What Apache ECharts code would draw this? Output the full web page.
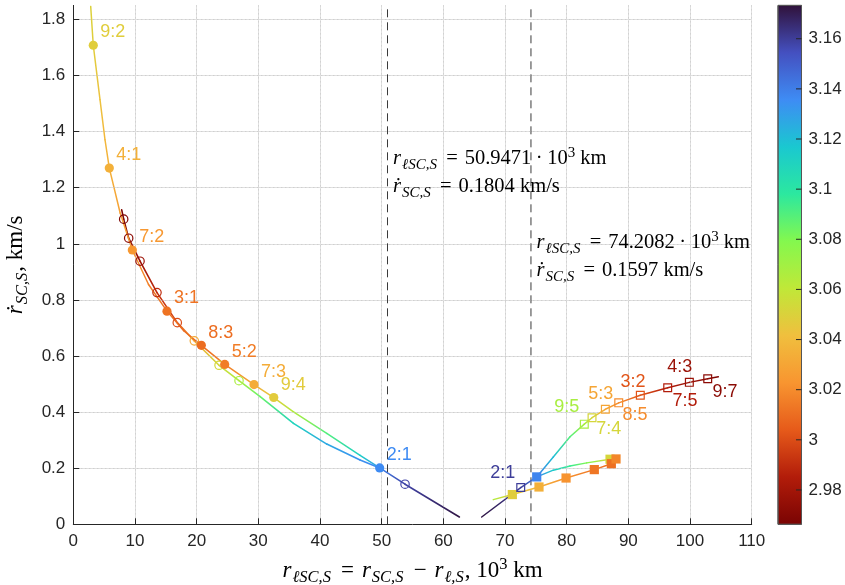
<!DOCTYPE html>
<html><head><meta charset="utf-8">
<script src="https://cdn.jsdelivr.net/npm/echarts@6/dist/echarts.min.js"></script>
<style>html,body{margin:0;padding:0;background:#fff}#c{width:845px;height:585px}</style>
</head><body><div id="c"></div>
<script>
// ---------------- data ----------------
const X_TICKS = [0,10,20,30,40,50,60,70,80,90,100,110];
const Y_TICKS = [0,0.2,0.4,0.6,0.8,1,1.2,1.4,1.6,1.8];
const CB_TICKS = [2.98,3,3.02,3.04,3.06,3.08,3.1,3.12,3.14,3.16];
const X_MIN = 0, X_MAX = 110, Y_MIN = 0, Y_MAX = 1.85;
const C_MIN = 2.9663, C_MAX = 3.1733;
const DASH_X = [50.9471, 74.2082];
const DASH_RDOT = [0.1804, 0.1597];

// left branch, curve through filled circles
const lfX = [2.82,3.24,4.33,5.14,5.84,7.6,9.57,12.2,15.19,17.9,20.76,24.55,29.3,32.5,35.7,41.1,46.5,49.68];
const lfY = [1.847,1.708,1.514,1.371,1.270,1.11,0.978,0.855,0.760,0.690,0.638,0.570,0.498,0.452,0.401,0.324,0.246,0.201];
const lfC = [3.05,3.048,3.043,3.038,3.035,3.028,3.024,3.016,3.012,3.010,3.010,3.015,3.033,3.047,3.065,3.09,3.113,3.132];
// left branch, curve through open circles
const loX = [7.85,8.17,8.98,10.82,13.57,16.86,19.62,23.63,26.87,30.3,35.7,41.1,46.5,49.68,53.79,62.6];
const loY = [1.121,1.088,1.020,0.938,0.826,0.719,0.654,0.567,0.512,0.455,0.360,0.286,0.229,0.201,0.143,0.026];
const loC = [2.967,2.968,2.972,2.978,2.99,3.0,3.032,3.053,3.067,3.085,3.11,3.127,3.134,3.138,3.158,3.172];
// right branch, curve through open squares
const roX = [66.22,72.55,75.14,77.83,80.54,82.86,84.11,86.27,88.44,91.94,96.38,99.89,102.87,104.59];
const roY = [0.026,0.131,0.169,0.240,0.312,0.357,0.380,0.410,0.433,0.460,0.487,0.506,0.519,0.526];
const roC = [3.172,3.16,3.14,3.12,3.09,3.068,3.052,3.03,3.02,3.002,2.985,2.977,2.972,2.968];
// right branch, upper curve through filled squares
const rf1X = [75.14,77.83,80.54,83.25,87.03];
const rf1Y = [0.169,0.193,0.208,0.219,0.232];
const rf1C = [3.138,3.115,3.095,3.08,3.052];
// right branch, lower curve through filled squares
const rf2X = [68.1,71.19,75.51,79.9,84.48,87.24,88.0];
const rf2Y = [0.088,0.106,0.133,0.165,0.195,0.216,0.233];
const rf2C = [3.065,3.048,3.035,3.022,3.013,3.011,3.018];

// markers
const dotX = [3.24,5.84,9.57,15.19,20.76,24.55,29.3,32.5,49.68];
const dotY = [1.708,1.270,0.978,0.760,0.638,0.570,0.498,0.452,0.201];
const dotC = [3.048,3.035,3.024,3.012,3.010,3.015,3.033,3.047,3.136];
const dotLabels = ['9:2','4:1','7:2','3:1','8:3','5:2','7:3','9:4','2:1'];
const ringX = [8.17,8.98,10.82,13.57,16.86,19.62,23.63,26.87,53.79];
const ringY = [1.088,1.020,0.938,0.826,0.719,0.654,0.567,0.512,0.143];
const ringC = [2.968,2.972,2.978,2.99,3.0,3.032,3.053,3.067,3.158];
const sqX = [72.55,82.86,84.11,86.27,88.44,91.94,96.38,99.89,102.87];
const sqY = [0.131,0.357,0.380,0.410,0.433,0.460,0.487,0.506,0.519];
const sqC = [3.16,3.068,3.052,3.03,3.02,3.002,2.985,2.977,2.972];
const sqLabels = ['2:1','9:5','7:4','5:3','8:5','3:2','7:5','4:3','9:7'];
const fsqX = [75.14,87.03,71.19,75.51,79.9,84.48,87.24,88.0];
const fsqY = [0.169,0.232,0.106,0.133,0.165,0.195,0.216,0.233];
const fsqC = [3.138,3.052,3.048,3.035,3.022,3.013,3.011,3.018];

// ---------------- styles ----------------
const CMAP = ['#7a0403','#b21c0a','#e65a1a','#f89530','#f0bf3e','#c0e838','#84f84e','#2ce89f','#1ac8d0','#3e8cf4','#4450c0','#30123b'];
const dotLabelOffset = [19.5,-12.7];
const sqLabelOffsets = [[-17.9,-14.8],[-17.6,-17],[16.7,11],[-4.6,-15.3],[16.3,12.6],[-7.3,-13.3],[17.3,13],[-9.6,-15],[17.3,13.6]];
const ANNOT_Y = [1.253, 0.954];
const SERIF = '"Liberation Serif","DejaVu Serif",serif';
const SANS = '"Liberation Sans",Arial,Helvetica,sans-serif';
const AX = '#262626';

const fmt = v => String(Number((+v).toFixed(3)));

function triples(xs, ys, cs){ return xs.map((x,i)=>[x, ys[i], cs[i]]); }

function curveSeries(xs, ys, cs, lw){
  return {
    type:'custom', coordinateSystem:'cartesian2d', xAxisIndex:0, yAxisIndex:0,
    data: triples(xs, ys, cs), encode:{x:0, y:1}, silent:true, clip:true, z:3,
    renderItem(params, api){
      const i = params.dataIndexInside;
      if (i === 0) return {type:'group', children:[]};
      const p0 = api.coord([api.value(0, i-1), api.value(1, i-1)]);
      const p1 = api.coord([api.value(0), api.value(1)]);
      const c0 = api.visual('color', i-1), c1 = api.visual('color');
      return {type:'line', shape:{x1:p0[0], y1:p0[1], x2:p1[0], y2:p1[1]},
        style:{stroke:{type:'linear', x:p0[0], y:p0[1], x2:p1[0], y2:p1[1], global:true,
          colorStops:[{offset:0,color:c0},{offset:1,color:c1}]}, lineWidth:lw, lineCap:'round'}};
    }
  };
}

function markerSeries(xs, ys, cs, kind, labels, offsets){
  return {
    type:'custom', coordinateSystem:'cartesian2d', xAxisIndex:0, yAxisIndex:0,
    data: triples(xs, ys, cs), encode:{x:0, y:1}, silent:true, clip:false, z:5,
    renderItem(params, api){
      const i = params.dataIndexInside;
      const p = api.coord([api.value(0), api.value(1)]);
      const col = api.visual('color');
      const ch = [];
      if (kind === 'dot') ch.push({type:'circle', shape:{cx:p[0], cy:p[1], r:4.6}, style:{fill:col}});
      if (kind === 'ring') ch.push({type:'circle', shape:{cx:p[0], cy:p[1], r:4.2}, style:{fill:'none', stroke:col, lineWidth:1.2}});
      if (kind === 'fsq') ch.push({type:'rect', shape:{x:p[0]-4.6, y:p[1]-4.6, width:9.2, height:9.2}, style:{fill:col}});
      if (kind === 'sq') ch.push({type:'rect', shape:{x:p[0]-3.9, y:p[1]-3.9, width:7.8, height:7.8}, style:{fill:'none', stroke:col, lineWidth:1.2}});
      if (labels && labels[i]){
        const off = Array.isArray(offsets[0]) ? offsets[i] : offsets;
        ch.push({type:'text', x:p[0]+off[0], y:p[1]+off[1], style:{text:labels[i], fill:col,
          fontSize:18, fontFamily:SANS, align:'center', verticalAlign:'middle'}});
      }
      return {type:'group', children:ch};
    }
  };
}

function mathStyles(main, sub, lh){
  const base = {fontFamily:SERIF, color:'#000'};
  return {
    it:Object.assign({}, base, {fontStyle:'italic', fontSize:main, lineHeight:lh}),
    rm:Object.assign({}, base, {fontSize:main, lineHeight:lh}),
    eq:Object.assign({}, base, {fontSize:main, lineHeight:lh, padding:[0, main*0.34, 0, main*0.4]}),
    dot:Object.assign({}, base, {fontSize:main, lineHeight:lh, padding:[0, main*0.22, 0, main*0.22]}),
    sub:Object.assign({}, base, {fontStyle:'italic', fontSize:sub, lineHeight:sub, verticalAlign:'bottom', padding:[0, 1, 0, 1]}),
    sup:Object.assign({}, base, {fontSize:sub, lineHeight:sub, verticalAlign:'top'})
  };
}
const annotRich = mathStyles(20.5, 15, 27.5);
const axisRich = mathStyles(23, 16.5, 30);

const series = [
  curveSeries(loX, loY, loC, 1.6),
  curveSeries(lfX, lfY, lfC, 1.5),
  curveSeries(roX, roY, roC, 1.5),
  curveSeries(rf1X, rf1Y, rf1C, 1.5),
  curveSeries(rf2X, rf2Y, rf2C, 1.5),
  markerSeries(ringX, ringY, ringC, 'ring', null, null),
  markerSeries(dotX, dotY, dotC, 'dot', dotLabels, dotLabelOffset),
  markerSeries(fsqX, fsqY, fsqC, 'fsq', null, null),
  markerSeries(sqX, sqY, sqC, 'sq', sqLabels, sqLabelOffsets),
  { // dashed reference lines
    type:'custom', coordinateSystem:'cartesian2d', xAxisIndex:0, yAxisIndex:0,
    data: DASH_X.map(v=>[v, Y_MIN]), encode:{x:0, y:1}, silent:true, z:2,
    renderItem(params, api){
      const a = api.coord([api.value(0), Y_MIN]), b = api.coord([api.value(0), Y_MAX]);
      return {type:'line', shape:{x1:a[0], y1:a[1], x2:b[0], y2:b[1]},
        style:{stroke:'#3a3a3a', lineWidth:1, lineDash:[8,5]}};
    }
  },
  { // colorbar with inside ticks
    type:'custom', coordinateSystem:'cartesian2d', xAxisIndex:2, yAxisIndex:1,
    data:[[0, C_MIN, 1, C_MAX]], encode:{x:[0,2], y:[1,3]}, silent:true, z:1,
    renderItem(params, api){
      const a = api.coord([api.value(0), api.value(1)]);
      const b = api.coord([api.value(2), api.value(3)]);
      const ch = [{type:'rect', shape:{x:a[0], y:b[1], width:b[0]-a[0], height:a[1]-b[1]},
        style:{fill:{type:'linear', x:0, y:a[1], x2:0, y2:b[1], global:true,
          colorStops: CMAP.map((c,i)=>({offset:i/(CMAP.length-1), color:c}))},
          stroke:'#555', lineWidth:1}}];
      CB_TICKS.forEach(t => {
        const q = api.coord([1, t]);
        ch.push({type:'line', shape:{x1:q[0]-5.5, y1:q[1], x2:q[0], y2:q[1]}, style:{stroke:AX, lineWidth:1}});
      });
      return {type:'group', children:ch};
    }
  }
];

const option = {
  animation:false,
  backgroundColor:'#fff',
  grid:[
    {left:73.3, right:93.3, top:5.4, bottom:60.7, outerBoundsMode:'none', containLabel:false},
    {left:778, width:23.5, top:5.4, bottom:60.7, outerBoundsMode:'none', containLabel:false}
  ],
  xAxis:[
    {gridIndex:0, type:'value', min:X_MIN, max:X_MAX, interval:2,
      name:'{it|r}{sub|ℓSC,S}{eq|=}{it|r}{sub|SC,S}{eq|−}{it|r}{sub|ℓ,S}{rm|, 10}{sup|3}{rm| km}',
      nameLocation:'middle', nameGap:32, nameTextStyle:{rich:axisRich},
      axisLine:{lineStyle:{color:AX, width:1}},
      axisTick:{inside:true, length:6, customValues:X_TICKS, lineStyle:{color:AX}},
      axisLabel:{customValues:X_TICKS, formatter:fmt, fontSize:17, fontFamily:SANS, color:AX, margin:9},
      splitLine:{show:true, lineStyle:{color:'#c8c8c8', type:[1,3], width:1}},
      z:4},
    {gridIndex:0, type:'value', min:X_MIN, max:X_MAX, interval:10, show:true,
      axisLine:{show:false}, axisTick:{show:false}, axisLabel:{show:false},
      splitLine:{show:true, lineStyle:{color:'#e0e0e0', width:1}}, z:0},
    {gridIndex:1, type:'value', min:0, max:1, show:false}
  ],
  yAxis:[
    {gridIndex:0, type:'value', min:Y_MIN, max:Y_MAX, interval:0.05,
      name:'{it|ṙ}{sub|SC,S}{rm|, km/s}', nameLocation:'middle', nameRotate:90, nameGap:37,
      nameTextStyle:{rich:axisRich},
      axisLine:{show:true, lineStyle:{color:AX, width:1}},
      axisTick:{show:true, inside:true, length:6, customValues:Y_TICKS, lineStyle:{color:AX}},
      axisLabel:{customValues:Y_TICKS, formatter:fmt, fontSize:17, fontFamily:SANS, color:AX, margin:8},
      splitLine:{show:true, lineStyle:{color:'#c8c8c8', type:[1,3], width:1}},
      z:4},
    {gridIndex:1, type:'value', min:C_MIN, max:C_MAX, position:'right',
      axisLine:{show:false}, axisTick:{show:false},
      axisLabel:{customValues:CB_TICKS, formatter:fmt, fontSize:17, fontFamily:SANS, color:AX, margin:7},
      splitLine:{show:false}, z:6},
    {gridIndex:0, type:'value', min:Y_MIN, max:Y_MAX, interval:0.2,
      axisLine:{show:false}, axisTick:{show:false}, axisLabel:{show:false},
      splitLine:{show:true, showMaxLine:false, lineStyle:{color:'#e0e0e0', width:1}}, z:0}
  ],
  visualMap:[{type:'continuous', show:false, min:C_MIN, max:C_MAX, dimension:2,
    seriesIndex:[0,1,2,3,4,5,6,7,8], inRange:{color:CMAP}}],
  series: series
};

const chart = echarts.init(document.getElementById('c'), null, {renderer:'canvas'});
chart.setOption(option);

// annotations anchored to the dashed lines
const graphics = DASH_X.map((xv, k) => {
  const p = chart.convertToPixel({xAxisIndex:0, yAxisIndex:0}, [xv, ANNOT_Y[k]]);
  return {type:'text', x:p[0]+5.5, y:p[1], z:10, silent:true,
    style:{text:'{it|r}{sub|ℓSC,S}{eq|=}{rm|' + xv.toFixed(4) + '}{dot|·}{rm|10}{sup|3}{rm| km}\n{it|ṙ}{sub|SC,S}{eq|=}{rm|' + DASH_RDOT[k].toFixed(4) + ' km/s}',
      rich:annotRich, align:'left', verticalAlign:'middle', fill:'#000'}};
});
chart.setOption({graphic:graphics});
</script>
</body></html>
